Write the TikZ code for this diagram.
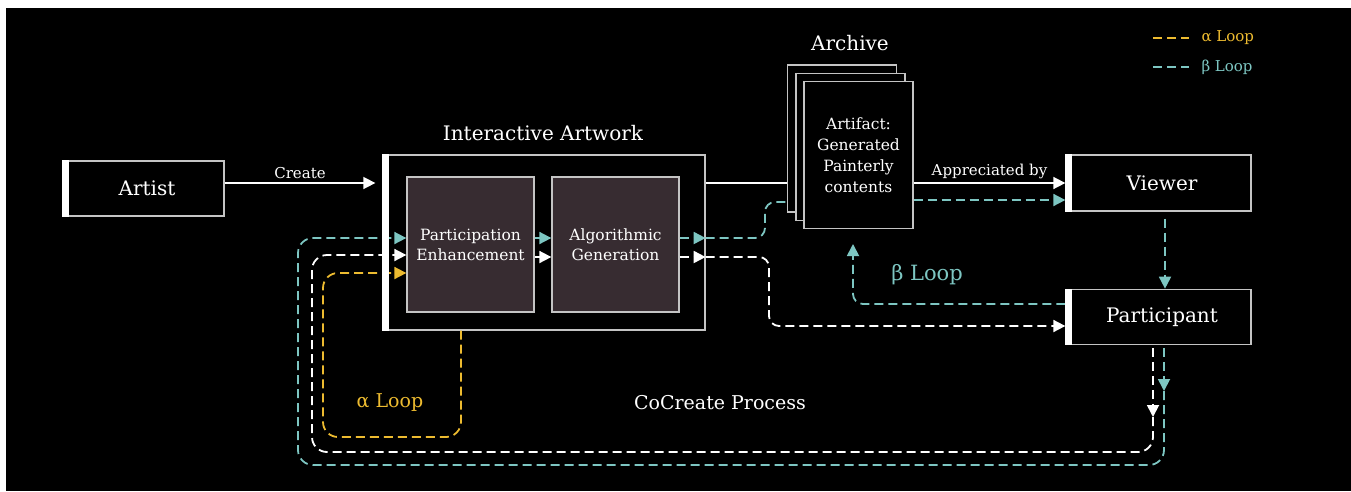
\documentclass[tikz,border=0pt]{standalone}
\usepackage{fontspec}
\setmainfont{DejaVu Serif}
\usetikzlibrary{arrows.meta,positioning}

\definecolor{alphagold}{HTML}{EDBB30}
\definecolor{betateal}{HTML}{7DC6C2}
\definecolor{innerbrown}{HTML}{372C31}
\definecolor{edgegray}{HTML}{C4C4C4}

\tikzset{
  box/.style={draw=edgegray, line width=1.3pt, fill=black, text=white,
    font=\fontsize{20}{24}\selectfont},
  inner/.style={draw=edgegray, line width=1.3pt, fill=innerbrown, text=white,
    align=center, font=\fontsize{15.5}{20}\selectfont,
    minimum width=127pt, minimum height=135pt},
  page/.style={draw=edgegray, line width=1.3pt, fill=black,
    minimum width=109pt, minimum height=147pt},
  tag/.style={text=white, font=\fontsize{15}{18}\selectfont},
  bigtag/.style={font=\fontsize{19}{22}\selectfont},
  tip/.style={-{Triangle[length=12pt,width=12pt]}},
  flow/.style={white, line width=1.6pt, tip},
  loopline/.style={line width=1.8pt, dash pattern=on 9pt off 5pt, rounded corners=15pt},
  aloop/.style={loopline, alphagold},
  bloop/.style={loopline, betateal},
  wloop/.style={loopline, white},
}

\begin{document}
\begin{tikzpicture}[x=1pt,y=-1pt]
  \useasboundingbox (0,0) rectangle (1351,491);
  \fill[white] (0,0) rectangle (1351,491);
  \fill[black] (6,8) rectangle (1351,491);
  \coordinate (mainrow) at (0,183);

  % main boxes
  \node[box, minimum width=161pt, minimum height=55pt] (artist) at (143.5,188.5) {\hspace*{7pt}Artist};
  \node[box, minimum width=322pt, minimum height=175pt] (ia) at (544,242.5) {};
  \node[tag, font=\fontsize{20}{24}\selectfont] (iatitle) at (543,133) {Interactive Artwork};
  \node[inner] (pe) at (470.5,244.5) {Participation\\Enhancement};
  \node[inner] (ag) at (615.5,244.5) {Algorithmic\\Generation};

  % archive stack
  \node[page] (page3) at (842,138.5) {};
  \node[page] (page2) at (850.5,146.8) {};
  \node[page, align=center, text=white, font=\fontsize{15.5}{21}\selectfont] (artifact) at (858.5,155)
    {Artifact:\\Generated\\Painterly\\contents};
  \node[tag, font=\fontsize{20}{24}\selectfont] (archive) at (850,43) {Archive};

  \node[box, minimum width=185pt, minimum height=56pt] (viewer) at (1158.5,183) {\hspace*{7pt}Viewer};
  \node[box, minimum width=185pt, minimum height=55pt, below=77pt of viewer] (part) {\hspace*{7pt}Participant};

  % solid flows
  \draw[flow] (artist.east |- mainrow) -- ([xshift=-7pt]ia.west |- mainrow)
    node[tag, midway, above] {Create};
  \draw[white, line width=1.6pt] (ia.east |- mainrow) -- (page3.west |- mainrow);
  \draw[flow] (artifact.east |- mainrow) -- (viewer.west |- mainrow)
    node[tag, midway, above] {Appreciated by};

  % inside the artwork
  \draw[bloop, tip] (pe.east |- 0,238) -- (ag.west |- 0,238);
  \draw[wloop, tip] (pe.east |- 0,257) -- (ag.west |- 0,257);
  \draw[bloop, tip] (ag.east |- 0,238) -- (ia.east |- 0,238);
  \draw[wloop, tip] (ag.east |- 0,257) -- (ia.east |- 0,257);

  % beta loop
  \draw[bloop, rounded corners=10pt] (ia.east |- 0,238) -- (765,238) |- (page3.west |- 0,202);
  \draw[bloop, tip] (artifact.east |- 0,200) -- (viewer.west |- 0,200);
  \draw[bloop, tip, shorten <=7pt] (viewer.south -| 1165,0) -- (part.north -| 1165,0);
  \draw[bloop, tip, rounded corners=10pt] (part.west |- 0,304) -| (853,244);
  \node[bigtag, text=betateal, font=\fontsize{21}{24}\selectfont] (betalabel) at (927,275) {β Loop};

  % back to the participant
  \draw[wloop, tip, rounded corners=10pt] (ia.east |- 0,257) -- (769,257) |- (part.west |- 0,326);

  % long loops into participation enhancement
  \draw[bloop, tip, shorten <=3pt] (part.south -| 1164,0) -- (1164,391);
  \draw[bloop, tip] (1164,391) -- (1164,465) -- (298,465) -- (298,238) -- (pe.west |- 0,238);
  \draw[wloop, tip, shorten <=3pt] (part.south -| 1153,0) -- (1153,417);
  \draw[wloop, tip] (1153,417) -- (1153,452) -- (312,452) -- (312,255) -- (pe.west |- 0,255);

  % alpha loop
  \draw[aloop, tip] (ia.south -| 461,0) -- (461,437) -- (323,437) -- (323,273) -- (pe.west |- 0,273);
  \node[bigtag, text=alphagold] (alphalabel) at (390,403) {α Loop};
  \node[bigtag, text=white] (process) at (720,403) {CoCreate Process};

  % legend
  \draw[aloop] (1153,38) -- (1189,38);
  \node[right, text=alphagold, font=\fontsize{15}{17}\selectfont] (alphakey) at (1198,38) {α Loop};
  \draw[bloop] (1153,67) -- (1189,67);
  \node[right, text=betateal, font=\fontsize{15}{17}\selectfont] (betakey) at (1198,67) {β Loop};

  % white bars on the left edges
  \foreach \n in {artist,ia,viewer,part}
    \fill[white] (\n.north west) rectangle ([xshift=7pt]\n.south west);
\end{tikzpicture}
\end{document}
